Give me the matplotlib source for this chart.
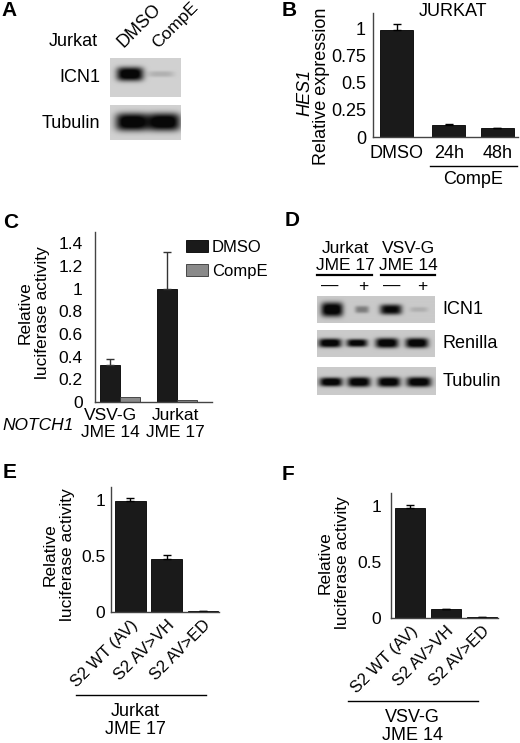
"""
Multi-panel figure: western blots and luciferase / expression bar charts
"""
# IMPORTS
import numpy as np
import matplotlib
matplotlib.use('Agg')
import matplotlib.pyplot as plt
from matplotlib.lines import Line2D
from matplotlib.transforms import ScaledTranslation

plt.rcParams['font.family'] = ['Liberation Sans', 'DejaVu Sans']

# DATA
# Panel A blot, band intensities (DMSO, CompE)
a_icn1 = [1.0, 0.14]
a_tubulin = [1.0, 1.0]

# Panel B
b_labels = ['DMSO', '24h', '48h']
b_values = [0.98, 0.11, 0.08]
b_err = [0.06, 0.01, 0.005]

# Panel C
c_groups = ['VSV-G\nJME 14', 'Jurkat\nJME 17']
c_dmso = [0.33, 1.0]
c_dmso_err = [0.05, 0.32]
c_compe = [0.045, 0.02]
c_compe_err = [0.0, 0.0]

# Panel D blots, band intensities (JME17 -, +, JME14 -, +)
d_icn1 = [1.0, 0.35, 0.9, 0.12]
d_renilla = [1.0, 0.95, 1.0, 1.0]
d_tubulin = [1.0, 1.0, 1.0, 1.0]

# Panels E and F
ef_labels = ['S2 WT (AV)', 'S2 AV>VH', 'S2 AV>ED']
e_values = [0.99, 0.47, 0.006]
e_err = [0.03, 0.04, 0.0]
f_values = [0.98, 0.08, 0.01]
f_err = [0.03, 0.0, 0.0]

# FIGURE SETUP
W, H = 520, 743
fig = plt.figure(figsize=(W / 100, H / 100), dpi=100)
fig.patch.set_facecolor('white')

BAR = '#1a1a1a'
GREY = '#8a8a8a'
SPINE = '#444444'


# FUNCTIONS
def px_axes(left, top, right, bottom):
    """Axes placed with pixel bounds (origin top left)."""
    return fig.add_axes([left / W, 1 - bottom / H, (right - left) / W, (bottom - top) / H])


def ftext(x, y, s, **kw):
    """Figure text placed in pixels."""
    kw.setdefault('ha', 'center')
    kw.setdefault('va', 'center')
    return fig.text(x / W, 1 - y / H, s, **kw)


def fline(x0, x1, y, lw=1.0):
    fig.add_artist(Line2D([x0 / W, x1 / W], [1 - y / H, 1 - y / H],
                          transform=fig.transFigure, color='black', lw=lw))


def draw_blot(box, centers, half_w, half_h, cy, intens, bg=0.82):
    """Gray blot strip with dark bands of given intensities."""
    left, top, right, bottom = box
    ax = px_axes(left, top, right, bottom)
    xs = np.linspace(left, right, (right - left) * 4)
    ys = np.linspace(top, bottom, (bottom - top) * 4)
    X, Y = np.meshgrid(xs, ys)
    dark = np.zeros_like(X)
    for c, hw, hh, v in zip(centers, half_w, half_h, intens):
        dark += v * np.exp(-np.abs((X - c) / hw) ** 4) * np.exp(-np.abs((Y - cy) / hh) ** 3)
    img = bg - (bg - 0.03) * np.clip(dark * 1.15, 0, 1)
    ax.imshow(img, cmap='gray', vmin=0, vmax=1, extent=(left, right, bottom, top),
              aspect='auto', interpolation='bilinear')
    ax.set_axis_off()
    return ax


def style_axes(ax, ylim, yticks, yticklabels, pad, fs=12.5):
    for side in ['top', 'right']:
        ax.spines[side].set_visible(False)
    for side in ['left', 'bottom']:
        ax.spines[side].set_color(SPINE)
        ax.spines[side].set_linewidth(1.0)
    ax.set_ylim(*ylim)
    ax.set_yticks(yticks)
    ax.set_yticklabels(yticklabels, fontsize=fs)
    ax.tick_params(axis='y', length=0, pad=pad)
    ax.tick_params(axis='x', length=0)
    ax.set_facecolor('none')


# PANEL A
ftext(1, 11, 'A', ha='left', fontsize=15, fontweight='bold')
ftext(73, 41, 'Jurkat', fontsize=13)
ftext(126, 51, 'DMSO', ha='left', va='bottom', rotation=45, rotation_mode='anchor', fontsize=13)
ftext(160, 51, 'CompE', ha='left', va='bottom', rotation=45, rotation_mode='anchor', fontsize=12.5)
ftext(100, 78, 'ICN1', ha='right', fontsize=13)
ftext(100, 123, 'Tubulin', ha='right', fontsize=13)
draw_blot((110, 58, 181, 97), [130, 161], [13.5, 13], [7, 3], 74, a_icn1)
draw_blot((110, 105, 181, 140), [132, 164], [16.5, 16.5], [9, 9], 122, a_tubulin)

# PANEL B
ftext(282, 10, 'B', ha='left', fontsize=15, fontweight='bold')
axb = px_axes(373, 13, 518, 137)
xb = np.array([0, 1.04, 2.01])
axb.bar(xb, b_values, width=0.66, color=BAR, edgecolor='black', lw=0.6)
axb.errorbar(xb, b_values, yerr=[np.zeros(3), b_err], fmt='none', ecolor='black',
             elinewidth=1, capsize=3)
axb.set_xlim(-0.47, 2.42)
style_axes(axb, (0, 1.14), [0, 0.25, 0.5, 0.75, 1], ['0', '0.25', '0.5', '0.75', '1'], 5, fs=13)
axb.set_xticks(xb)
axb.set_xticklabels(b_labels, fontsize=13)
axb.tick_params(axis='x', pad=6)
ftext(453, 11, 'JURKAT', fontsize=13)
ftext(322, 86, 'Relative expression', rotation=90, fontsize=13)
ftext(305, 93, 'HES1', rotation=90, fontsize=13, style='italic')
fline(430, 517, 166)
ftext(473, 180, 'CompE', fontsize=13)

# PANEL C
ftext(3, 222, 'C', ha='left', fontsize=15, fontweight='bold')
axc = px_axes(95, 232, 212, 402)
xc = np.arange(len(c_groups))
bw = 0.35
axc.bar(xc - bw / 2, c_dmso, width=bw, color=BAR, edgecolor='black', lw=0.6, label='DMSO')
axc.bar(xc + bw / 2, c_compe, width=bw, color=GREY, edgecolor='#333333', lw=0.6, label='CompE')
axc.errorbar(xc - bw / 2, c_dmso, yerr=[np.zeros(2), c_dmso_err], fmt='none',
             ecolor='#333333', elinewidth=1, capsize=3)
axc.set_xlim(-0.44, 1.61)
ct = [0, 0.2, 0.4, 0.6, 0.8, 1.0, 1.2, 1.4]
style_axes(axc, (0, 1.5), ct, ['0', '0.2', '0.4', '0.6', '0.8', '1', '1.2', '1.4'], 9)
axc.set_xticks([])
axc.legend(loc='upper left', bbox_to_anchor=(186 / W, 1 - 240 / H), bbox_transform=fig.transFigure,
           frameon=False, fontsize=12, handlelength=1.3, handleheight=0.75,
           handletextpad=0.25, labelspacing=0.55, borderaxespad=0, borderpad=0)
for xg, lab in zip([110, 175], c_groups):
    ftext(xg, 424, lab, fontsize=12.5, linespacing=1.1)
ftext(2, 425, 'NOTCH1', ha='left', fontsize=12.5, style='italic')
ftext(34, 313, 'Relative\nluciferase activity', rotation=90, fontsize=12.5, linespacing=1.15)

# PANEL D
ftext(285, 221, 'D', ha='left', fontsize=15, fontweight='bold')
ftext(345, 248, 'Jurkat', fontsize=12.5)
ftext(345, 265, 'JME 17', fontsize=12.5)
ftext(408, 248, 'VSV-G', fontsize=12.5)
ftext(408, 265, 'JME 14', fontsize=12.5)
fline(317, 372, 275, lw=1.6)
fline(381, 435, 275, lw=1.6)
for xl, s in zip([330, 363, 392, 422], ['—', '+', '—', '+']):
    ftext(xl, 286, s, fontsize=12.5)
draw_blot((317, 296, 435, 323), [332, 362, 391, 419], [11, 7, 11, 9], [7, 3.5, 5, 2.5], 310, d_icn1, bg=0.79)
draw_blot((317, 330, 435, 357), [330, 357, 387, 417], [11.5, 10.5, 11.5, 11.5], [4.5, 4, 5, 5], 343, d_renilla, bg=0.79)
draw_blot((317, 367, 436, 395), [331, 359, 389, 419], [11.5, 11.5, 11.5, 12.5], [4.5, 5, 5, 5], 382, d_tubulin, bg=0.79)
ftext(442, 310, 'ICN1', ha='left', fontsize=13)
ftext(442, 343, 'Renilla', ha='left', fontsize=13)
ftext(443, 381, 'Tubulin', ha='left', fontsize=13)


# PANELS E / F
def ef_panel(box, values, err, pad, ylab_x, ylab_y, line, group, letter):
    left, top, right, bottom = box
    ax = px_axes(left, top, right, bottom)
    x = np.arange(len(values))
    ax.bar(x, values, width=0.85, color=BAR, edgecolor='black', lw=0.6)
    ax.errorbar(x, values, yerr=[np.zeros(len(values)), err], fmt='none', ecolor='black',
                elinewidth=1, capsize=3)
    ax.set_xlim(-0.53, 2.44)
    style_axes(ax, (0, 1.116), [0, 0.5, 1], ['0', '0.5', '1'], pad)
    ax.set_xticks(x)
    ax.set_xticklabels(ef_labels, fontsize=12, rotation=45, ha='right', rotation_mode='anchor')
    shift = ScaledTranslation(6 / 100, 0, fig.dpi_scale_trans)
    for lbl in ax.get_xticklabels():
        lbl.set_transform(lbl.get_transform() + shift)
    ax.tick_params(axis='x', pad=4)
    ftext(ylab_x, ylab_y, 'Relative\nluciferase activity', rotation=90, fontsize=12.5, linespacing=1.15)
    fline(line[0], line[1], line[2])
    ftext(line[3], line[2] + 17, group[0], fontsize=13)
    ftext(line[3], line[2] + 34, group[1], fontsize=13)
    ftext(letter[1], letter[2], letter[0], ha='left', fontsize=15, fontweight='bold')
    return ax


ef_panel((111, 487, 219, 612), e_values, e_err, 4, 59, 555,
         (76, 206, 695, 135), ('Jurkat', 'JME 17'), ('E', 3, 473))
ef_panel((391, 493, 498, 618), f_values, f_err, 7, 334, 563,
         (348, 478, 701, 412), ('VSV-G', 'JME 14'), ('F', 282, 474))

# OUTPUT
fig.savefig('out.png', dpi=100, facecolor='white')
